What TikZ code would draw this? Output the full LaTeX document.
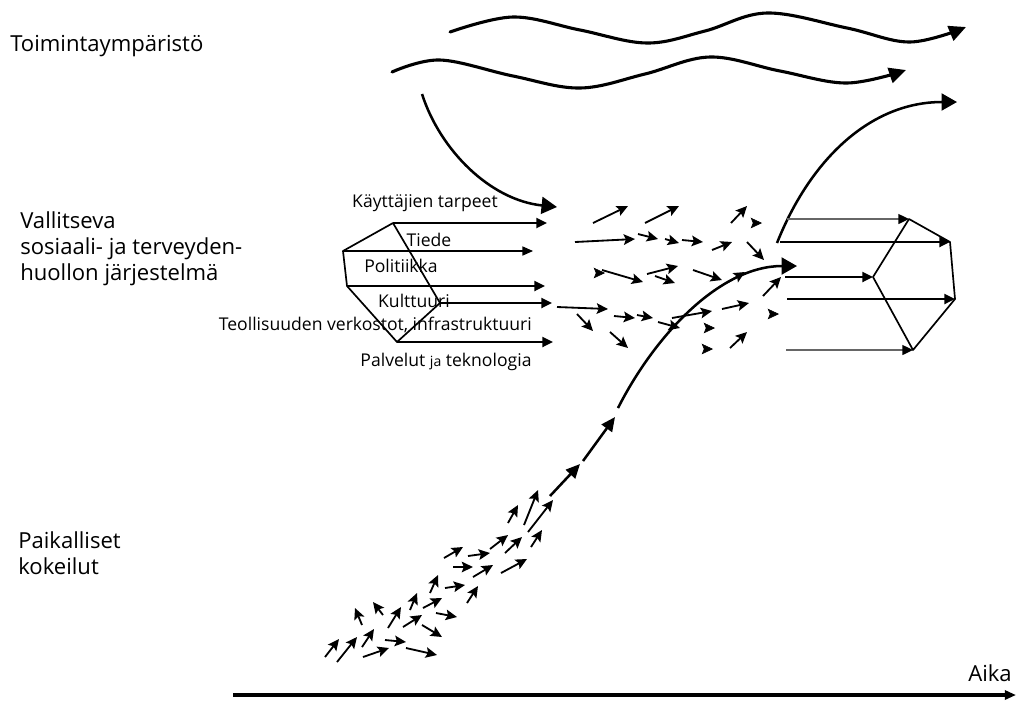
\documentclass[tikz,border=0pt]{standalone}
\usepackage{fontspec}
\setmainfont{Open Sans}
\usetikzlibrary{calc, arrows.meta, positioning}

\begin{document}
\begin{tikzpicture}[x=0.025cm, y=-0.025cm,
    wave/.style={line width=2.2pt, line cap=round, -{Triangle[length=12pt,width=11pt]}},
    curvearrow/.style={line width=1.8pt, -{Triangle[length=11pt,width=12pt]}},
    seg/.style={line width=1.8pt, -{Triangle[length=10pt,width=9pt]}},
    flow/.style={line width=1.6pt, -{Triangle[length=7.5pt,width=7pt]}},
    thinflow/.style={line width=0.8pt, -{Triangle[length=7.5pt,width=6.5pt]}},
    greyflow/.style={line width=1pt, draw=black!60, -{Triangle[length=7.5pt,width=7pt,color=black]}},
    side/.style={line width=1.2pt, line join=round},
    small/.style={line width=1.3pt, -{Stealth[length=8pt,width=7.5pt,inset=1.5pt]}},
    tipmark/.style={line width=0.4pt, -{Stealth[length=8pt,width=7.5pt,inset=1.5pt]}},
    axis/.style={line width=2.8pt, -{Triangle[length=8pt,width=6.5pt]}},
    lbl/.style={inner sep=0pt, font=\fontsize{12.5}{14}\selectfont},
    biglbl/.style={inner sep=0pt, align=left, font=\fontsize{15.7}{18.5}\selectfont}]

    \useasboundingbox (0,0) rectangle (1017,700);

    % labels on the left
    \node[biglbl, anchor=base west] (env) at (10,51) {Toimintaympäristö};
    \node[biglbl, anchor=north west] (regime) at (20,211) {Vallitseva\\sosiaali- ja terveyden-\\huollon järjestelmä};
    \node[biglbl, anchor=north west] (niche) at (18,531) {Paikalliset\\kokeilut};

    % environment waves
    \draw[wave] plot[smooth, tension=0.6] coordinates {(450,32) (513,17) (580,30) (647,43) (705,31) (767,13) (847,28) (910,42) (966,27)};
    \draw[wave] plot[smooth, tension=0.6] coordinates {(392,72) (440,60) (513,76) (580,88) (645,74) (710,57) (780,71) (847,83) (906,70)};
    \draw[curvearrow] (422,94) .. controls (440,150) and (490,200) .. (557,207);
    \draw[curvearrow] (777,243) .. controls (810,160) and (870,102) .. (957,102);

    % regime at the start
    \coordinate (lTop) at (393,223);
    \coordinate (lLeft) at (343,251);
    \coordinate (lLow) at (347,286);
    \coordinate (lBot) at (397,342);
    \coordinate (lRight) at (440,303);
    \draw[side] (lTop) -- (lLeft) -- (lLow) -- (lBot) -- (lRight) -- cycle;

    \draw[flow] (lTop) -- (547,223);
    \draw[thinflow] (lLeft) -- (533,251);
    \draw[flow] (lLow) -- (545,286);
    \draw[flow] (lRight) -- (552,303);
    \draw[flow] (lBot) -- (553,342);

    \node[lbl] (users) at (425,203) {Käyttäjien tarpeet};
    \node[lbl] (science) at (429,240) {Tiede};
    \node[lbl] (policy) at (401,266) {Politiikka};
    \node[lbl] (culture) at (414,301) {Kulttuuri};
    \node[lbl, anchor=east] (industry) at (532,325) {Teollisuuden verkostot, infrastruktuuri};
    \node[lbl] (services) at (446,362) {Palvelut {\fontsize{10}{12}\selectfont ja} teknologia};

    % regime after the change
    \coordinate (rTop) at (909,219);
    \coordinate (rUp) at (950,242);
    \coordinate (rLow) at (955,299);
    \coordinate (rBot) at (913,350);
    \coordinate (rLeft) at (873,277);
    \draw[side] (rTop) -- (rUp) -- (rLow) -- (rBot) -- (rLeft) -- cycle;

    \draw[greyflow] (787,219) -- (rTop);
    \draw[flow] (780,242) -- (rUp);
    \draw[flow] (785,277) -- (rLeft);
    \draw[flow] (787,299) -- (rLow);
    \draw[greyflow] (786,350) -- (rBot);

    % turbulence in the middle
    \foreach \xa/\ya/\xb/\yb in {593/223/628/206, 645/223/679/206, 575/242/635/239, 638/234/658/239,
        665/239/679/243, 682/240/703/242, 712/250/732/242, 731/223/747/206, 747/242/764/260,
        602/270/643/282, 647/274/678/266, 655/276/675/283, 693/270/722/280, 728/282/745/272,
        763/296/781/277, 557/307/608/309, 577/314/593/331, 614/316/635/318, 637/315/653/318,
        658/322/680/328, 672/318/712/311, 610/332/628/348, 722/309/749/303, 730/348/747/332}
        \draw[small] (\xa,\ya) -- (\xb,\yb);
    \foreach \xa/\ya in {605/273, 762/223, 715/328, 779/314, 713/349}
        \draw[tipmark] (\xa-6,\ya) -- (\xa,\ya);

    % local experiments
    \foreach \xa/\ya/\xb/\yb in {325/657/339/639, 337/662/357/637, 362/647/374/629, 363/657/389/648,
        385/640/406/642, 406/648/437/655, 362/625/355/608, 383/615/373/602, 388/628/401/607,
        403/627/422/615, 410/610/417/593, 422/625/442/637, 423/608/442/598, 436/613/457/617,
        430/593/438/575, 445/588/465/585, 467/603/478/586, 444/558/463/547, 453/567/473/567,
        468/556/490/553, 473/577/493/565, 501/573/527/559, 490/549/508/535, 505/553/522/537,
        531/547/542/530, 508/523/518/505, 524/525/538/490, 528/532/553/500}
        \draw[small] (\xa,\ya) -- (\xb,\yb);

    % breakthrough curve
    \draw[seg] (550,496) -- (580,464);
    \draw[seg] (583,461) -- (615,417);
    \draw[curvearrow] (618,408) .. controls (655,335) and (720,266) .. (797,266);

    % time axis
    \coordinate (t0) at (233,695);
    \coordinate (t1) at (1016,695);
    \draw[axis] (t0) -- (t1);
    \node[biglbl, anchor=base west] (time) at (968,681) {Aika};
\end{tikzpicture}
\end{document}
